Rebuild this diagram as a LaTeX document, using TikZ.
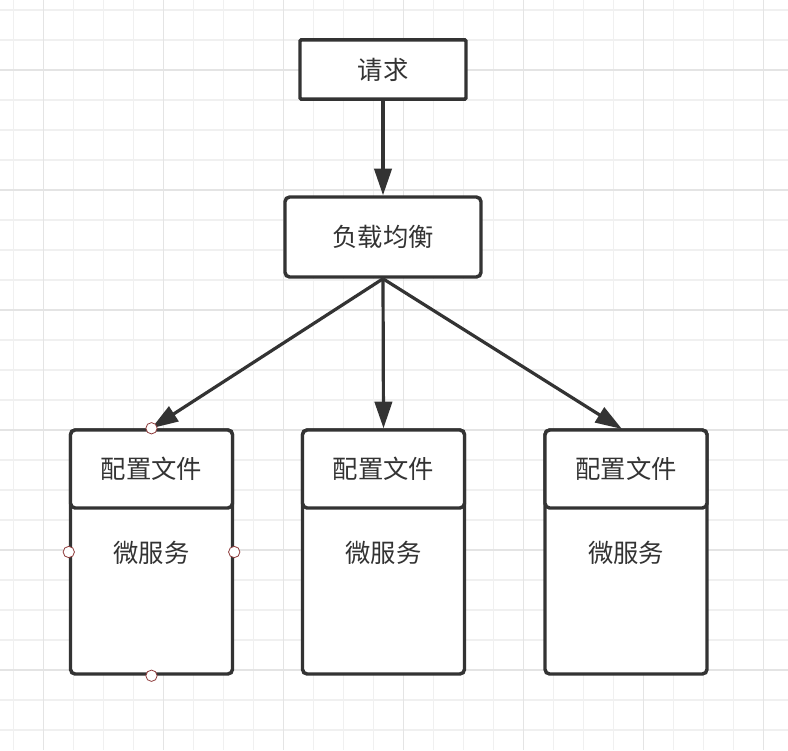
\documentclass[tikz,border=0pt]{standalone}
\usepackage{fontspec}
\newfontfamily\cjk{Noto Sans CJK SC}
\usetikzlibrary{arrows.meta}
\definecolor{ink}{HTML}{333333}
\definecolor{gridminor}{HTML}{F0F0F0}
\definecolor{gridmajor}{HTML}{E4E4E4}
\definecolor{handle}{HTML}{8E3B3B}
\tikzset{
  box/.style={draw=ink, line width=2.6pt, fill=white, inner sep=0pt, text=ink,
    font=\cjk\fontsize{19}{19}\selectfont, rounded corners=3.5pt},
  txt/.style={inner sep=0pt, text=ink, font=\cjk\fontsize{19}{19}\selectfont},
  arr/.style={draw=ink, line width=2.4pt, -{Triangle[length=20pt, width=13pt]}},
  dot/.style={circle, draw=handle, line width=0.6pt, fill=white, minimum size=8.5pt, inner sep=0pt}
}
\begin{document}
\begin{tikzpicture}[x=0.75pt, y=-0.75pt]
\useasboundingbox (0,0) rectangle (788,750);
\fill[white] (0,0) rectangle (788,750);
% grid
\foreach \x in {13.3,43.3,...,788} \draw[gridminor, line width=0.9pt] (\x,0) -- (\x,750);
\foreach \y in {10,40,...,750} \draw[gridminor, line width=0.9pt] (0,\y) -- (788,\y);
\foreach \x in {43.3,163.3,...,788} \draw[gridmajor, line width=0.9pt] (\x,0) -- (\x,750);
\foreach \y in {70,190,...,750} \draw[gridmajor, line width=0.9pt] (0,\y) -- (788,\y);

\node[box, rounded corners=1pt, minimum width=124.5pt, minimum height=44.5pt] (req) at (383,69.5) {请求};
\node[box, minimum width=147pt, minimum height=60pt] (lb) at (383,237) {负载均衡};

% three services
\foreach \n/\x in {1/151.5, 2/383.5, 3/626}{
  \node[box, minimum width=121.5pt, minimum height=183pt] (ms\n) at (\x,552) {};
  \node[box, minimum width=121.5pt, minimum height=58.5pt, anchor=north] (cfg\n) at (ms\n.north) {配置文件};
  \node[txt] (svc\n) at (\x,553) {微服务};
}

\draw[arr] (req) -- (lb);
\draw[arr] (lb.south) -- (ms1.north);
\draw[arr] (lb.south) -- (ms2.north);
\draw[arr] (lb.south) -- (622,429);

% handles on the selected box
\node[dot] (h1) at (ms1.north) {};
\node[dot] (h2) at (ms1.west) {};
\node[dot] (h3) at (ms1.east) {};
\node[dot] (h4) at (ms1.south) {};
\end{tikzpicture}
\end{document}
